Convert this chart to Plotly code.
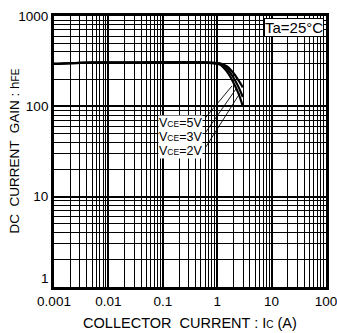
import math
import plotly.graph_objects as go

# Data
ic = [0.001, 0.002, 0.005, 0.01, 0.1, 0.5, 0.8, 1.12, 1.49, 1.97, 2.45, 2.96]
hfe_5v = [295, 300, 304, 305, 306, 306, 304, 300, 278, 235, 195, 162]
hfe_3v = [295, 300, 304, 305, 306, 306, 302, 295, 262, 210, 165, 127]
hfe_2v = [295, 300, 304, 305, 306, 305, 300, 290, 245, 185, 140, 100]

x_ticks = [0.001, 0.01, 0.1, 1, 10, 100]
x_ticktext = ["0.001", "0.01", "0.1", "1", "10", "100"]
y_ticks = [1, 10, 100, 1000]
y_ticktext = ["1<br> ", "10", "100", "1000"]

labels = ["V<span style='font-size:8.5px'>CE</span>=5V",
          "V<span style='font-size:8.5px'>CE</span>=3V",
          "V<span style='font-size:8.5px'>CE</span>=2V"]
label_pos = [(0.216, 65.3), (0.216, 45.7), (0.216, 32.0)]
leader_start = [(0.6, 74), (0.6, 50.6), (0.6, 34.5)]
leader_end = [(1.87, 168), (2.22, 156), (2.62, 140)]

x_minor = [m * 10 ** e for e in range(-3, 2) for m in range(2, 10)]
y_minor = [m * 10 ** e for e in range(0, 3) for m in range(2, 10)]

FONT = "Liberation Sans, Arial"

fig = go.Figure()
for y in (hfe_5v, hfe_3v, hfe_2v):
    fig.add_trace(go.Scatter(x=ic, y=y, mode="lines", line=dict(color="black", width=2.2, shape="spline"),
                             showlegend=False, hoverinfo="skip"))
for (x0, y0), (x1, y1) in zip(leader_start, leader_end):
    fig.add_trace(go.Scatter(x=[x0, x1], y=[y0, y1], mode="lines", line=dict(color="black", width=0.9),
                             showlegend=False, hoverinfo="skip"))

for txt, (lx, ly) in zip(labels, label_pos):
    fig.add_annotation(x=math.log10(lx), y=math.log10(ly), xref="x", yref="y", text=txt, showarrow=False,
                       bgcolor="white", font=dict(family=FONT, size=12.5, color="black"),
                       borderpad=0, xanchor="center", yanchor="middle")

fig.add_annotation(x=1, y=1, xref="paper", yref="paper", xanchor="right", yanchor="top",
                   text="Ta=25°C", showarrow=False, bgcolor="white", bordercolor="black", borderwidth=1,
                   borderpad=0, xshift=-2, yshift=-2,
                   font=dict(family=FONT, size=15, color="black"))

# y-axis title placed as a rotated annotation
fig.add_annotation(x=0, y=0.5, xref="paper", yref="paper", xanchor="center", yanchor="middle",
                   xshift=-40, textangle=-90, showarrow=False,
                   text="DC  CURRENT  GAIN : h<span style='font-size:10px'>FE</span>",
                   font=dict(family=FONT, size=13.5, color="black"))

axis_common = dict(type="log", showline=True, linecolor="black", linewidth=2.8, mirror=True,
                   showgrid=True, gridcolor="black", gridwidth=1.6, ticks="", zeroline=False,
                   ticklabeloverflow="allow",
                   tickfont=dict(family=FONT, size=13.5, color="black"))

fig.update_xaxes(range=[-3, 2], tickvals=x_ticks, ticktext=x_ticktext,
                 minor=dict(tickvals=x_minor, showgrid=True, gridcolor="black", gridwidth=1, ticks=""),
                 title=dict(text="COLLECTOR  CURRENT : I<span style='font-size:10px'>C</span> (A)",
                            font=dict(family=FONT, size=14.5, color="black"), standoff=10),
                 **axis_common)
fig.update_yaxes(range=[0, 3], tickvals=y_ticks, ticktext=y_ticktext,
                 minor=dict(tickvals=y_minor, showgrid=True, gridcolor="black", gridwidth=1, ticks=""),
                 **axis_common)

fig.update_layout(width=337, height=333, margin=dict(l=54, r=11, t=16, b=46, autoexpand=False),
                  paper_bgcolor="white", plot_bgcolor="white")

fig.write_html("out.html")
